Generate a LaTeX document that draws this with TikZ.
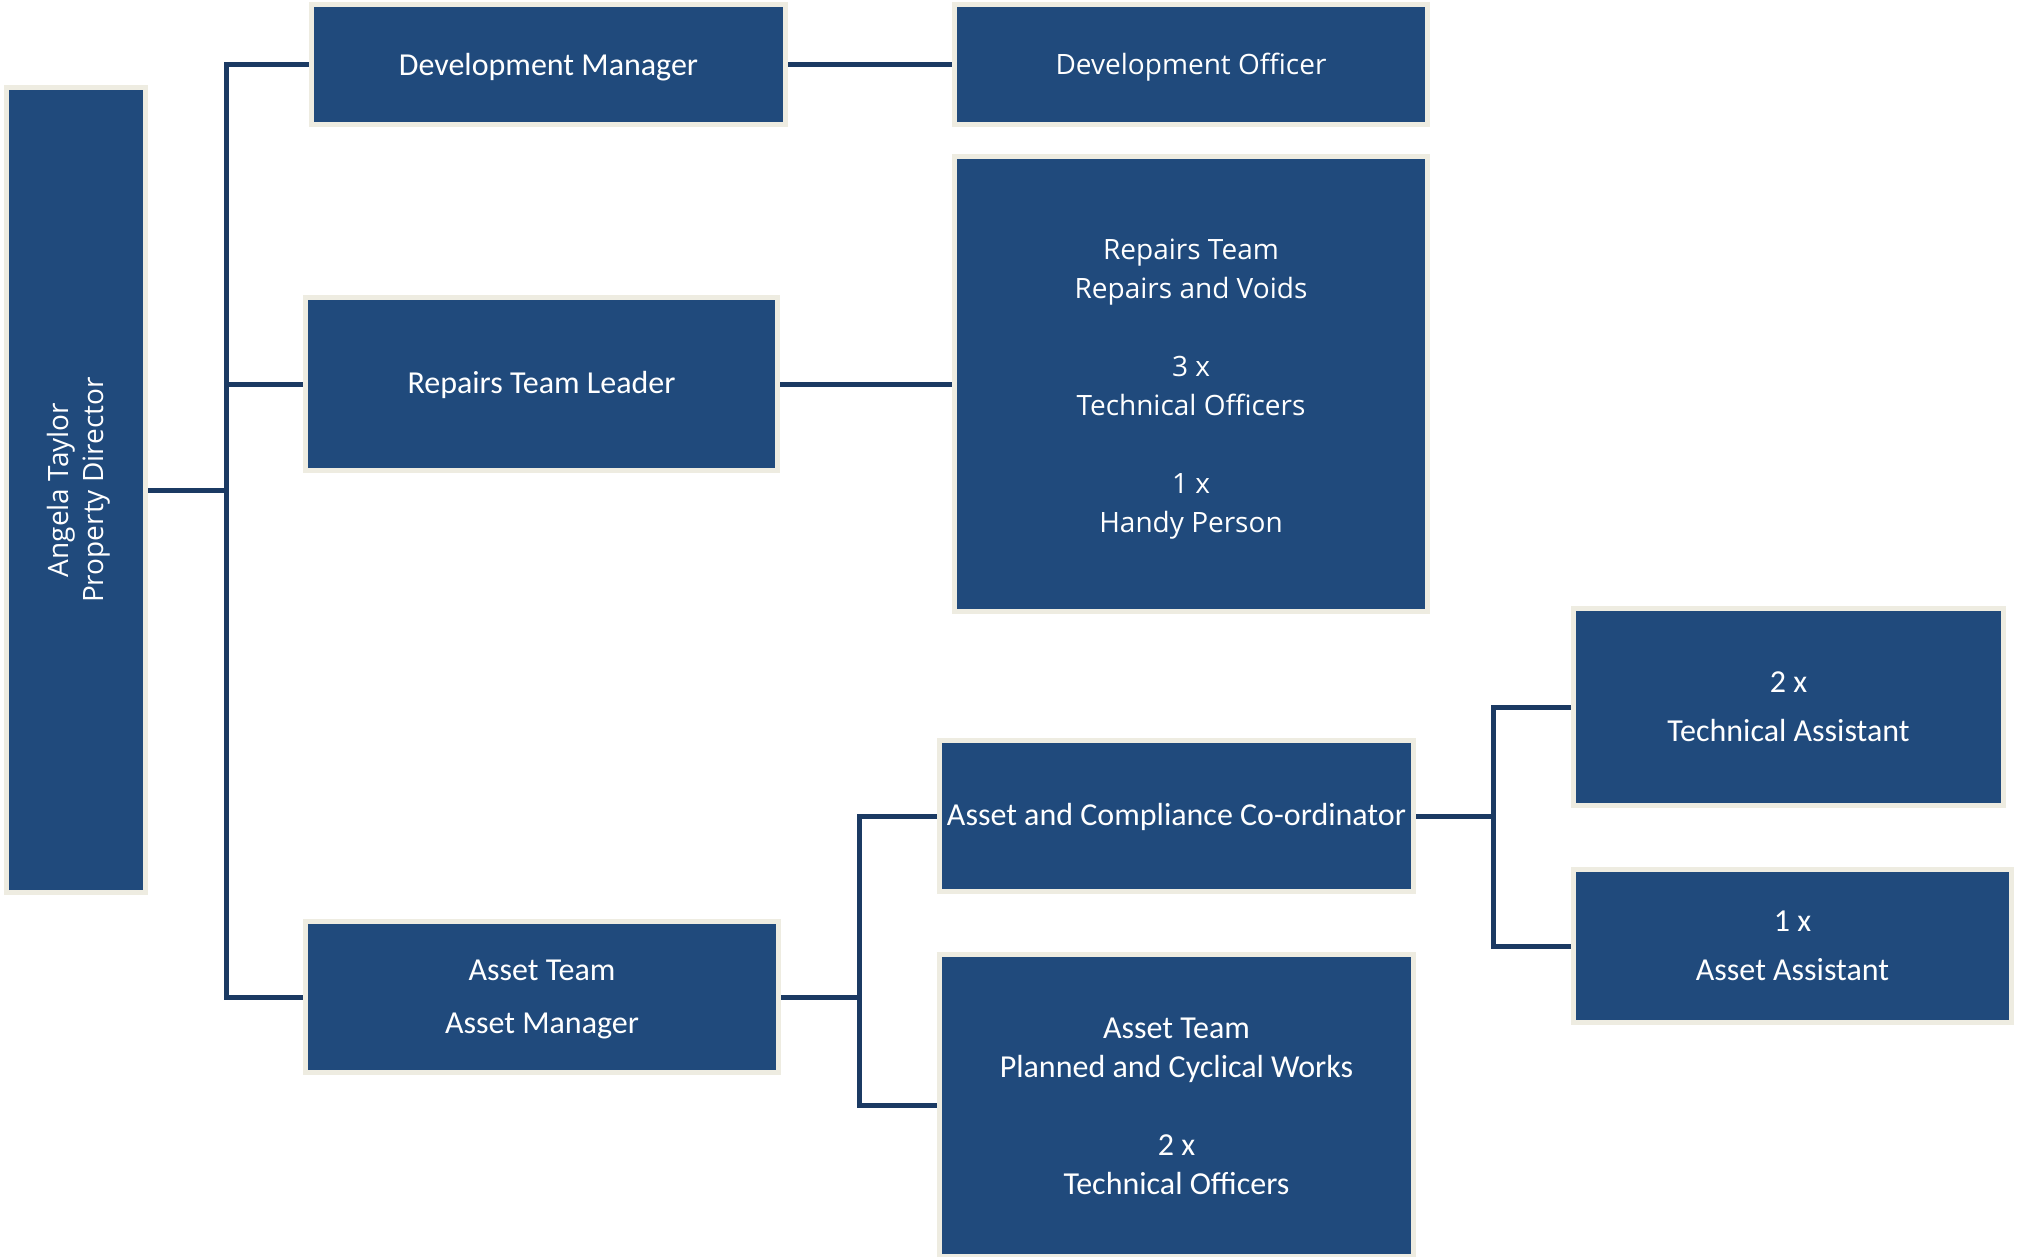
\documentclass[tikz,border=0pt]{standalone}
\usepackage{fontspec}
\newfontfamily\calfont{Carlito}
\newfontfamily\segfont{Open Sans}
\definecolor{boxblue}{RGB}{32,74,124}
\definecolor{rimcream}{RGB}{238,236,225}
\definecolor{linknavy}{RGB}{27,58,99}
\tikzset{
  orgbox/.style={draw=rimcream, fill=boxblue, line width=5pt, text=white,
    align=center, inner sep=0pt},
  calibri/.style={font=\calfont\fontsize{32}{39}\selectfont},
  segoe/.style={font=\segfont\fontsize{28}{37}\selectfont},
  inset/.style={text=white, align=center, inner sep=0pt},
  link/.style={draw=linknavy, line width=5pt}
}
% box of outer size (#1 x #2) -- the rim is 5pt wide and centred on the path
\tikzset{outer/.style 2 args={minimum width=#1pt-5pt, minimum height=#2pt-5pt}}
% lower a line of text a little without changing its box
\newcommand\lowered[2]{\raisebox{-#1}[\height][\depth]{#2}}
\begin{document}
\begin{tikzpicture}[x=1pt,y=-1pt]
\useasboundingbox (0,0) rectangle (2022,1257);

% director column
\node[orgbox, segoe, outer={144}{810}] (dir) at (76,490)
  {\rotatebox{90}{\lowered{3pt}{\begin{tabular}{@{}c@{}}Angela Taylor\\[-2pt]Property Director\end{tabular}}}};

% second level
\node[orgbox, calibri, outer={479}{125}] (dm)  at (548.5,64.5) {\lowered{2.5pt}{Development Manager}};
\node[orgbox, calibri, outer={477}{178}] (rtl) at (541.5,384) {\lowered{1pt}{Repairs Team Leader}};
\node[orgbox, outer={478}{156},
  label={[inset, calibri, yshift=-2.5pt]center:{Asset Team\\[14pt]Asset Manager}}] (am) at (542,997) {};

% third level
\node[orgbox, segoe, outer={478}{125}] (do) at (1191,64.5) {\lowered{2.5pt}{Development Officer}};
\node[orgbox, outer={478}{460},
  label={[inset, segoe, yshift=-5pt]center:{Repairs Team\\[2pt]Repairs and Voids\\[41pt]3 x\\[2pt]Technical Officers\\[41pt]1 x\\[2pt]Handy Person}}] (rt) at (1191,384) {};
\node[orgbox, calibri, outer={479}{156}] (acc) at (1176.5,816) {\lowered{1pt}{Asset and Compliance Co-ordinator}};
\node[orgbox, outer={479}{307},
  label={[inset, calibri, yshift=-1pt]center:{Asset Team\\Planned and Cyclical Works\\[39pt]2 x\\Technical Officers}}] (atp) at (1176.5,1105.5) {};

% fourth level
\node[orgbox, calibri, outer={435}{202}] (ta) at (1788.5,707) {2 x\\[10pt]Technical Assistant};
\node[orgbox, calibri, outer={443}{158}] (aa) at (1792.5,946) {1 x\\[10pt]Asset Assistant};

% junction points of the elbow connectors
\coordinate (j1) at (226,490);
\coordinate (j2) at (859,997);
\coordinate (j3) at (1493,816);

\draw[link] (dir.east) -- (j1);
\draw[link] (j1) |- (dm.west);
\draw[link] (j1) |- (rtl.west);
\draw[link] (j1) |- (am.west);
\draw[link] (dm.east) -- (do.west);
\draw[link] (rtl.east) -- (rt.west);
\draw[link] (am.east) -- (j2);
\draw[link] (j2) |- (acc.west);
\draw[link] (j2) |- (atp.west);
\draw[link] (acc.east) -- (j3);
\draw[link] (j3) |- (ta.west);
\draw[link] (j3) |- (aa.west);
\end{tikzpicture}
\end{document}
